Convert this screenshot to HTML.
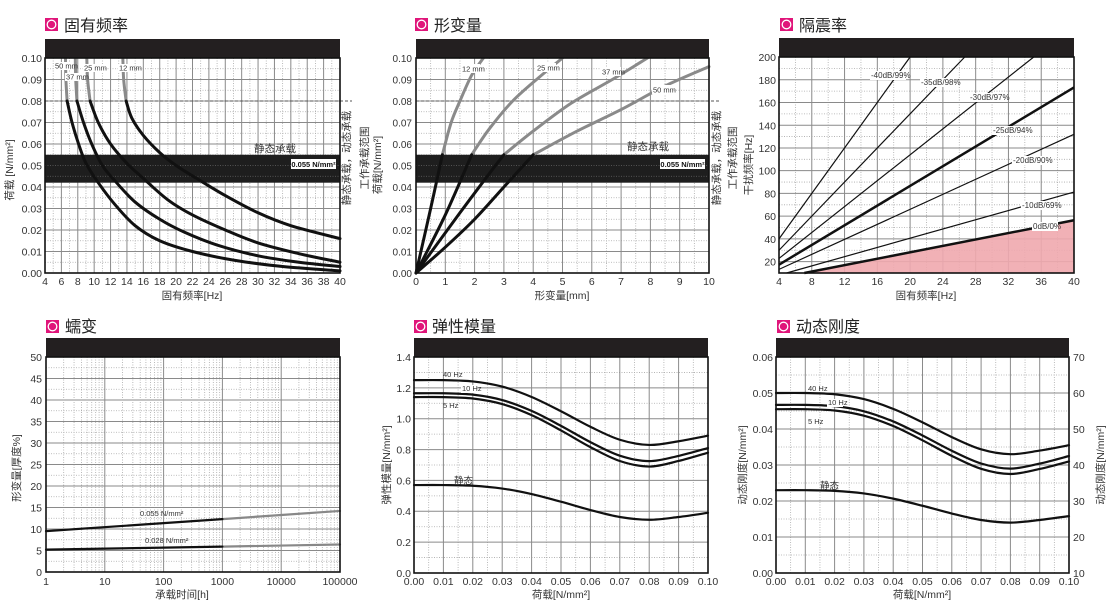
<!DOCTYPE html>
<html><head><meta charset="utf-8"><style>
html,body{margin:0;padding:0;background:#fff;width:1110px;height:608px;overflow:hidden}
svg text{font-family:"Liberation Sans","Noto Sans CJK SC",sans-serif;fill:#333}
.t{font-size:10.5px}
.tt{font-size:16px;fill:#222}
.ax{font-size:10.5px}
.sm{font-size:7.5px;fill:#333}
</style></head><body>
<svg id="s" width="1110" height="608" viewBox="0 0 1110 608" xmlns="http://www.w3.org/2000/svg">
<g id="g"></g>
<!-- icons & titles -->
<g id="icons"></g>
<text class="tt" x="64" y="31">固有频率</text>
<text class="tt" x="434" y="31">形变量</text>
<text class="tt" x="799" y="31">隔震率</text>
<text class="tt" x="65" y="332">蠕变</text>
<text class="tt" x="432" y="332">弹性模量</text>
<text class="tt" x="796" y="332">动态刚度</text>

<!-- Panel 1 ticks -->
<g class="t" text-anchor="middle">
<text x="45" y="285">4</text><text x="61.4" y="285">6</text><text x="77.8" y="285">8</text><text x="94.2" y="285">10</text><text x="110.6" y="285">12</text><text x="126.9" y="285">14</text><text x="143.3" y="285">16</text><text x="159.7" y="285">18</text><text x="176.1" y="285">20</text><text x="192.5" y="285">22</text><text x="208.9" y="285">24</text><text x="225.3" y="285">26</text><text x="241.7" y="285">28</text><text x="258" y="285">30</text><text x="274.4" y="285">32</text><text x="290.8" y="285">34</text><text x="307.2" y="285">36</text><text x="323.6" y="285">38</text><text x="340" y="285">40</text>
</g>
<g class="t" text-anchor="end">
<text x="42" y="62">0.10</text><text x="42" y="83.5">0.09</text><text x="42" y="105">0.08</text><text x="42" y="126.5">0.07</text><text x="42" y="148">0.06</text><text x="42" y="169.5">0.05</text><text x="42" y="191">0.04</text><text x="42" y="212.5">0.03</text><text x="42" y="234">0.02</text><text x="42" y="255.5">0.01</text><text x="42" y="277">0.00</text>
</g>
<text class="ax" x="192" y="299" text-anchor="middle">固有频率[Hz]</text>
<text class="ax" transform="translate(13,170) rotate(-90)" text-anchor="middle">荷载 [N/mm²]</text>
<text class="ax" transform="translate(350,158) rotate(-90)" text-anchor="middle">静态承载，动态承载</text>
<text class="ax" transform="translate(368,158) rotate(-90)" text-anchor="middle">工作承载范围</text>
<text class="ax" x="254" y="152">静态承载</text>
<rect x="291" y="159" width="45" height="10" fill="#fff"/>
<text x="313.5" y="167" text-anchor="middle" style="font-size:7.5px;font-weight:bold;fill:#111">0.055 N/mm²</text>
<g class="sm">
<rect x="54" y="62" width="16" height="8" fill="#fff"/><text x="55" y="68.5">50 mm</text>
<rect x="65" y="73" width="17" height="8" fill="#fff"/><text x="66" y="79.5">37 mm</text>
<rect x="83" y="64" width="20" height="8" fill="#fff"/><text x="84" y="70.5">25 mm</text>
<rect x="118" y="64" width="16" height="8" fill="#fff"/><text x="119" y="70.5">12 mm</text>
</g>

<!-- Panel 2 ticks -->
<g class="t" text-anchor="middle">
<text x="416" y="285">0</text><text x="445.3" y="285">1</text><text x="474.6" y="285">2</text><text x="503.9" y="285">3</text><text x="533.2" y="285">4</text><text x="562.5" y="285">5</text><text x="591.8" y="285">6</text><text x="621.1" y="285">7</text><text x="650.4" y="285">8</text><text x="679.7" y="285">9</text><text x="709" y="285">10</text>
</g>
<g class="t" text-anchor="end" style="font-size:10px">
<text x="412" y="62">0.10</text><text x="412" y="83.5">0.09</text><text x="412" y="105">0.08</text><text x="412" y="126.5">0.07</text><text x="412" y="148">0.06</text><text x="412" y="169.5">0.05</text><text x="412" y="191">0.04</text><text x="412" y="212.5">0.03</text><text x="412" y="234">0.02</text><text x="412" y="255.5">0.01</text><text x="412" y="277">0.00</text>
</g>
<text class="ax" x="562" y="299" text-anchor="middle">形变量[mm]</text>
<text class="ax" transform="translate(381,165) rotate(-90)" text-anchor="middle">荷载[N/mm²]</text>
<text class="ax" transform="translate(720,158) rotate(-90)" text-anchor="middle">静态承载，动态承载</text>
<text class="ax" transform="translate(736,158) rotate(-90)" text-anchor="middle">工作承载范围</text>
<text class="ax" x="627" y="150">静态承载</text>
<rect x="660" y="159" width="45" height="10" fill="#fff"/>
<text x="682.5" y="167" text-anchor="middle" style="font-size:7.5px;font-weight:bold;fill:#111">0.055 N/mm²</text>
<g class="sm">
<rect x="461" y="64" width="19" height="9" fill="#fff"/><text x="462" y="71.5">12 mm</text>
<rect x="536" y="63" width="20" height="9" fill="#fff"/><text x="537" y="70.5">25 mm</text>
<rect x="601" y="67" width="20" height="9" fill="#fff"/><text x="602" y="74.5">37 mm</text>
<rect x="652" y="85" width="20" height="9" fill="#fff"/><text x="653" y="92.5">50 mm</text>
</g>

<!-- Panel 3 ticks -->
<g class="t" text-anchor="middle">
<text x="779" y="285">4</text><text x="811.8" y="285">8</text><text x="844.6" y="285">12</text><text x="877.3" y="285">16</text><text x="910.1" y="285">20</text><text x="942.9" y="285">24</text><text x="975.7" y="285">28</text><text x="1008.4" y="285">32</text><text x="1041.2" y="285">36</text><text x="1074" y="285">40</text>
</g>
<g class="t" text-anchor="end">
<text x="776" y="265.6">20</text><text x="776" y="242.9">40</text><text x="776" y="220.2">60</text><text x="776" y="197.4">80</text><text x="776" y="174.7">100</text><text x="776" y="152">120</text><text x="776" y="129.3">140</text><text x="776" y="106.5">160</text><text x="776" y="83.8">180</text><text x="776" y="61">200</text>
</g>
<text class="ax" x="926" y="299" text-anchor="middle">固有频率[Hz]</text>
<text class="ax" transform="translate(752,165) rotate(-90)" text-anchor="middle">干扰频率[Hz]</text>
<g class="sm" style="font-size:8px">
<rect x="870" y="71" width="36" height="9" fill="#fff"/><text x="871" y="78">-40dB/99%</text>
<rect x="920" y="78" width="36" height="9" fill="#fff"/><text x="921" y="85">-35dB/98%</text>
<rect x="969" y="93" width="36" height="9" fill="#fff"/><text x="970" y="100">-30dB/97%</text>
<rect x="992" y="126" width="36" height="9" fill="#fff"/><text x="993" y="133">-25dB/94%</text>
<rect x="1012" y="156" width="36" height="9" fill="#fff"/><text x="1013" y="163">-20dB/90%</text>
<rect x="1021" y="201" width="36" height="9" fill="#fff"/><text x="1022" y="208">-10dB/69%</text>
<rect x="1032" y="222" width="26" height="9" fill="#fff"/><text x="1033" y="229">0dB/0%</text>
</g>

<!-- Panel 4 ticks -->
<g class="t" text-anchor="middle">
<text x="46" y="585">1</text><text x="104.8" y="585">10</text><text x="163.6" y="585">100</text><text x="222.4" y="585">1000</text><text x="281.2" y="585">10000</text><text x="340" y="585">100000</text>
</g>
<g class="t" text-anchor="end">
<text x="42" y="576">0</text><text x="42" y="554.5">5</text><text x="42" y="533">10</text><text x="42" y="511.5">15</text><text x="42" y="490">20</text><text x="42" y="468.5">25</text><text x="42" y="447">30</text><text x="42" y="425.5">35</text><text x="42" y="404">40</text><text x="42" y="382.5">45</text><text x="42" y="361">50</text>
</g>
<text class="ax" x="182" y="598" text-anchor="middle">承载时间[h]</text>
<text class="ax" transform="translate(20,468) rotate(-90)" text-anchor="middle">形变量[厚度%]</text>
<text class="sm" x="140" y="516">0.055 N/mm²</text>
<text class="sm" x="145" y="543">0.028 N/mm²</text>

<!-- Panel 5 ticks -->
<g class="t" text-anchor="middle">
<text x="414" y="585">0.00</text><text x="443.4" y="585">0.01</text><text x="472.8" y="585">0.02</text><text x="502.2" y="585">0.03</text><text x="531.6" y="585">0.04</text><text x="561" y="585">0.05</text><text x="590.4" y="585">0.06</text><text x="619.8" y="585">0.07</text><text x="649.2" y="585">0.08</text><text x="678.6" y="585">0.09</text><text x="708" y="585">0.10</text>
</g>
<g class="t" text-anchor="end">
<text x="411" y="577">0.0</text><text x="411" y="546">0.2</text><text x="411" y="515">0.4</text><text x="411" y="484.4">0.6</text><text x="411" y="453.6">0.8</text><text x="411" y="422.7">1.0</text><text x="411" y="391.9">1.2</text><text x="411" y="361">1.4</text>
</g>
<text class="ax" x="561" y="598" text-anchor="middle">荷载[N/mm²]</text>
<text class="ax" transform="translate(390,465) rotate(-90)" text-anchor="middle">弹性模量[N/mm²]</text>
<g class="sm">
<text x="443" y="377">40 Hz</text>
<rect x="461" y="385" width="16" height="8" fill="#fff"/><text x="462" y="391">10 Hz</text>
<text x="443" y="408">5 Hz</text>
</g>
<text class="t" x="454" y="484" style="font-size:9.5px">静态</text>

<!-- Panel 6 ticks -->
<g class="t" text-anchor="middle">
<text x="776" y="585">0.00</text><text x="805.3" y="585">0.01</text><text x="834.6" y="585">0.02</text><text x="863.9" y="585">0.03</text><text x="893.2" y="585">0.04</text><text x="922.5" y="585">0.05</text><text x="951.8" y="585">0.06</text><text x="981.1" y="585">0.07</text><text x="1010.4" y="585">0.08</text><text x="1039.7" y="585">0.09</text><text x="1069" y="585">0.10</text>
</g>
<g class="t" text-anchor="end">
<text x="773" y="577">0.00</text><text x="773" y="541">0.01</text><text x="773" y="505">0.02</text><text x="773" y="469">0.03</text><text x="773" y="433">0.04</text><text x="773" y="397">0.05</text><text x="773" y="361">0.06</text>
</g>
<g class="t">
<text x="1073" y="577">10</text><text x="1073" y="541">20</text><text x="1073" y="505">30</text><text x="1073" y="469">40</text><text x="1073" y="433">50</text><text x="1073" y="397">60</text><text x="1073" y="361">70</text>
</g>
<text class="ax" x="922" y="598" text-anchor="middle">荷载[N/mm²]</text>
<text class="ax" transform="translate(746,465) rotate(-90)" text-anchor="middle">动态刚度[N/mm²]</text>
<text class="ax" transform="translate(1104,465) rotate(-90)" text-anchor="middle">动态刚度[N/mm²]</text>
<g class="sm">
<text x="808" y="391">40 Hz</text>
<rect x="827" y="399" width="16" height="8" fill="#fff"/><text x="828" y="405">10 Hz</text>
<text x="808" y="424">5 Hz</text>
</g>
<text class="t" x="820" y="489" style="font-size:9.5px">静态</text>
</svg>
<script>
var NS="http://www.w3.org/2000/svg",G=document.getElementById('g'),IC=document.getElementById('icons');
function el(t,a,p){var e=document.createElementNS(NS,t);for(var k in a)e.setAttribute(k,a[k]);(p||G).appendChild(e);return e;}
function mk(x0,x1,y0,y1,xa,xb,ya,yb,log){return{x0:x0,x1:x1,y0:y0,y1:y1,X:function(v){if(log)v=Math.log10(v);return x0+(v-xa)/(xb-xa)*(x1-x0);},Y:function(v){return y1-(v-ya)/(yb-ya)*(y1-y0);}};}
function line(x1,y1,x2,y2,c,w,d){var a={x1:x1,y1:y1,x2:x2,y2:y2,stroke:c,'stroke-width':w};if(d)a['stroke-dasharray']=d;el('line',a);}
function grid(P,xs,ys,xm,ym){
 xm.forEach(function(v){var x=P.X(v);line(x,P.y0,x,P.y1,'#aaa',0.8,'1,1.5');});
 ym.forEach(function(v){var y=P.Y(v);line(P.x0,y,P.x1,y,'#aaa',0.8,'1,1.5');});
 xs.forEach(function(v){var x=P.X(v);line(x,P.y0,x,P.y1,'#8a8a8a',1);});
 ys.forEach(function(v){var y=P.Y(v);line(P.x0,y,P.x1,y,'#8a8a8a',1);});
}
function frame(P){el('rect',{x:P.x0,y:P.y0-19,width:P.x1-P.x0,height:19,fill:'#231f20'});
 el('rect',{x:P.x0,y:P.y0,width:P.x1-P.x0,height:P.y1-P.y0,fill:'none',stroke:'#111','stroke-width':1.6});}
function rng(a,b,s){var r=[];for(var v=a;v<=b+1e-9;v+=s)r.push(+v.toFixed(6));return r;}
function path(P,pts,c,w){var p=pts.map(function(q){return[P.X(q[0]),P.Y(q[1])];});
 var d='M'+p[0][0]+','+p[0][1];
 for(var i=0;i<p.length-1;i++){var a=p[i-1]||p[i],b=p[i],c2=p[i+1],e=p[i+2]||c2;
  d+=' C'+(b[0]+(c2[0]-a[0])/6)+','+(b[1]+(c2[1]-a[1])/6)+' '+(c2[0]-(e[0]-b[0])/6)+','+(c2[1]-(e[1]-b[1])/6)+' '+c2[0]+','+c2[1];}
 el('path',{d:d,fill:'none',stroke:c,'stroke-width':w,'stroke-linecap':'round'});}
function icon(x,y){el('rect',{x:x,y:y,width:13,height:13,fill:'#e0157a'},IC);el('circle',{cx:x+6.5,cy:y+6.5,r:4.3,fill:'none',stroke:'#fff','stroke-width':1.3},IC);}
icon(45,18);icon(415,18);icon(780,18);icon(46,320);icon(414,320);icon(777,320);
function band(P){el('rect',{x:P.x0,y:P.Y(0.055),width:P.x1-P.x0,height:P.Y(0.042)-P.Y(0.055),fill:'#1e1e1e'});
 [0.045,0.05].forEach(function(v){line(P.x0,P.Y(v),P.x1,P.Y(v),'#666',0.8,'1,1.5');});
 line(P.x0,P.Y(0.08),P.x1+12,P.Y(0.08),'#555',1,'3,2');}
// Panel 1
var P1=mk(45,340,58,273,4,40,0,0.1);
grid(P1,rng(4,40,2),rng(0,0.1,0.01),rng(5,39,2),rng(0.005,0.095,0.01));band(P1);
var c1=[
[[[13.5,0.1],[13.6,0.09],[13.9,0.08]],[[13.9,0.08],[14.6,0.072],[16,0.064],[18,0.056],[20,0.05],[22.5,0.044],[26,0.036],[30,0.028],[34,0.022],[40,0.016]]],
[[[9.1,0.1],[9.2,0.09],[9.5,0.08]],[[9.5,0.08],[10.5,0.07],[12,0.06],[14,0.051],[16,0.044],[19,0.034],[22,0.027],[26,0.02],[30,0.014],[35,0.009],[40,0.005]]],
[[[7.7,0.1],[7.75,0.09],[7.9,0.08]],[[7.9,0.08],[8.7,0.07],[9.7,0.06],[11,0.05],[12.5,0.043],[15,0.033],[18,0.025],[21,0.019],[25,0.013],[30,0.008],[35,0.005],[40,0.003]]],
[[[6.5,0.1],[6.55,0.09],[6.7,0.08]],[[6.7,0.08],[7.3,0.07],[8.1,0.06],[9,0.051],[10.5,0.042],[12.5,0.032],[15,0.022],[18,0.015],[22,0.01],[27,0.006],[33,0.003],[40,0.001]]]];
c1.forEach(function(c){path(P1,c[0],'#8a8a8a',3);path(P1,c[1],'#111',3);});
frame(P1);
// Panel 2
var P2=mk(416,709,58,273,0,10,0,0.1);
grid(P2,rng(0,10,1),rng(0,0.1,0.01),rng(0.5,9.5,1),rng(0.005,0.095,0.01));band(P2);
var c2=[
[[[0,0],[0.5,0.03],[0.9,0.055]],[[0.9,0.055],[1.2,0.07],[1.5,0.08],[1.9,0.092],[2.3,0.1]]],
[[[0,0],[1,0.027],[1.9,0.055]],[[1.9,0.055],[2.5,0.067],[3.3,0.08],[4.2,0.091],[5,0.1]]],
[[[0,0],[1.5,0.028],[2.6,0.048],[3,0.055]],[[3,0.055],[4,0.066],[5.3,0.079],[6.7,0.09],[7.9,0.1]]],
[[[0,0],[1,0.012],[2,0.025],[3,0.04],[4,0.055]],[[4,0.055],[5.5,0.066],[7,0.076],[8.5,0.087],[10,0.096]]]];
c2.forEach(function(c){path(P2,c[1],'#8a8a8a',3);path(P2,c[0],'#111',3);});
frame(P2);
// Panel 3
var P3=mk(779,1074,57,273,4,40,10,200);
grid(P3,rng(4,40,4),rng(20,200,20),rng(6,38,4),rng(10,190,20));
var X3=P3.X,Y3=P3.Y;
var k0=1.41,x0s=10/k0;
el('polygon',{points:X3(x0s)+','+Y3(10)+' '+X3(40)+','+Y3(40*k0)+' '+X3(40)+','+Y3(10),fill:'#f0a9ae',opacity:0.9});
grid({X:X3,Y:Y3,x0:X3(x0s),x1:1074,y0:57,y1:273},[],[],[],[]);
[[1.41,2.5],[2.03,1.2],[3.3,1.2],[4.33,2.5],[5.7,1.2],[7.5,1.2],[10,1.2]].forEach(function(l){
 var k=l[0],xs=Math.max(4,10/k),xe=Math.min(40,200/k);line(X3(xs),Y3(xs*k),X3(xe),Y3(xe*k),'#111',l[1]);});
frame(P3);
// Panel 4
var P4=mk(46,340,357,572,0,5,0,50,true);
var lm=[];for(var d=0;d<5;d++)for(var m=2;m<10;m++)lm.push(m*Math.pow(10,d));
grid(P4,[1,10,100,1000,10000,100000],rng(0,50,5),lm,rng(2.5,47.5,5));
path(P4,[[1000,12.3],[100000,14.2]],'#888',2.2);path(P4,[[1,9.5],[1000,12.3]],'#111',2.2);
path(P4,[[1000,5.9],[100000,6.4]],'#888',2.2);path(P4,[[1,5.2],[1000,5.9]],'#111',2.2);
frame(P4);
// Panel 5 & 6 curves
function sig(a,m,e){return [[0,a],[0.01,a],[0.02,a-(a-m)*0.02],[0.03,a-(a-m)*0.1],[0.04,a-(a-m)*0.26],[0.05,a-(a-m)*0.48],[0.06,a-(a-m)*0.72],[0.07,a-(a-m)*0.92],[0.08,m],[0.09,m+(e-m)*0.4],[0.1,e]];}
var P5=mk(414,708,357,573,0,0.1,0,1.4);
grid(P5,rng(0,0.1,0.01),rng(0,1.4,0.2),rng(0.005,0.095,0.01),rng(0.1,1.3,0.2));
[[1.25,0.83,0.89],[1.165,0.725,0.81],[1.14,0.69,0.78],[0.57,0.345,0.39]].forEach(function(c){path(P5,sig(c[0],c[1],c[2]),'#111',2.2);});
frame(P5);
var P6=mk(776,1069,357,573,0,0.1,0,0.06);
grid(P6,rng(0,0.1,0.01),rng(0,0.06,0.01),rng(0.005,0.095,0.01),rng(0.005,0.055,0.01));
[[0.05,0.033,0.0355],[0.0467,0.029,0.0325],[0.0455,0.0275,0.031],[0.023,0.014,0.0158]].forEach(function(c){path(P6,sig(c[0],c[1],c[2]),'#111',2.2);});
frame(P6);
</script>
</body></html>
